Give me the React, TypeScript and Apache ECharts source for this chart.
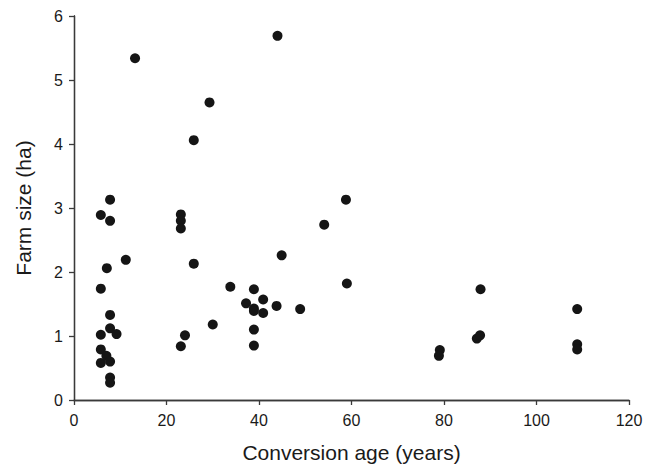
import React, { useEffect, useRef } from "react";
import * as echarts from "echarts";

const conversionAge: number[] = [
  7.8, 5.8, 7.8, 11.2, 7.1, 5.8, 7.8, 5.8, 7.8, 9.2, 5.8, 5.8, 7.0, 7.8, 7.8, 7.8,
  13.2, 29.3, 25.9, 44.0,
  23.1, 23.1, 23.1, 58.8, 54.1, 44.9, 25.9, 59.0, 33.8, 38.9, 40.9, 37.2, 38.9, 38.9,
  40.9, 43.8, 48.9, 30.0, 24.0, 23.1, 38.9, 38.9,
  87.9, 87.1, 87.8, 79.1, 78.9,
  108.8, 108.8, 108.8,
];
const farmSize: number[] = [
  3.13, 2.89, 2.8, 2.19, 2.06, 1.74, 1.33, 1.02, 1.12, 1.03, 0.79, 0.58, 0.69, 0.6, 0.35, 0.27,
  5.34, 4.65, 4.06, 5.69,
  2.9, 2.8, 2.68, 3.13, 2.74, 2.26, 2.13, 1.82, 1.77, 1.73, 1.57, 1.51, 1.43, 1.39,
  1.36, 1.47, 1.42, 1.18, 1.01, 0.84, 1.1, 0.85,
  1.73, 0.96, 1.01, 0.78, 0.69,
  1.42, 0.87, 0.79,
];
const xTitle = "Conversion age (years)";
const yTitle = "Farm size (ha)";

export default function App() {
  const ref = useRef<HTMLDivElement>(null);
  useEffect(() => {
    if (!ref.current) return;
    const chart = echarts.init(ref.current, null, { renderer: "svg" });
    const lineStyle = { color: "#3a3a3a", width: 1.3 };
    const font = "'Liberation Sans', Arial, sans-serif";
    chart.setOption({
      animation: false,
      backgroundColor: "#ffffff",
      grid: { left: 74, right: 22, top: 16, bottom: 63.5, containLabel: false },
      xAxis: [
        {
          type: "value",
          min: 0,
          max: 120,
          interval: 20,
          name: xTitle,
          nameLocation: "middle",
          nameGap: 42,
          nameTextStyle: { fontSize: 21, color: "#1a1a1a", fontFamily: font },
          axisLine: { show: true, lineStyle },
          axisTick: { show: true, inside: false, length: 5, lineStyle },
          axisLabel: { fontSize: 16, color: "#1a1a1a", margin: 12, fontFamily: font },
          splitLine: { show: false },
        },
        {
          type: "value",
          position: "top",
          min: 0,
          max: 120,
          axisLine: { show: true, lineStyle },
          axisTick: { show: false },
          axisLabel: { show: false },
          splitLine: { show: false },
        },
      ],
      yAxis: [
        {
          type: "value",
          min: 0,
          max: 6,
          interval: 1,
          name: yTitle,
          nameLocation: "middle",
          nameGap: 40,
          nameTextStyle: { fontSize: 21, color: "#1a1a1a", fontFamily: font },
          axisLine: { show: true, lineStyle },
          axisTick: { show: true, inside: false, length: 5, lineStyle },
          axisLabel: { fontSize: 16, color: "#1a1a1a", margin: 11, fontFamily: font },
          splitLine: { show: false },
        },
        {
          type: "value",
          position: "right",
          min: 0,
          max: 6,
          axisLine: { show: true, lineStyle },
          axisTick: { show: false },
          axisLabel: { show: false },
          splitLine: { show: false },
        },
      ],
      series: [
        {
          type: "scatter",
          symbol: "circle",
          symbolSize: 10,
          itemStyle: { color: "#151515", opacity: 1 },
          data: conversionAge.map((x, i) => [x, farmSize[i]]),
        },
      ],
    });
    return () => chart.dispose();
  }, []);
  return <div ref={ref} style={{ width: 651, height: 468, position: "absolute", left: 0, top: 0 }} />;
}
